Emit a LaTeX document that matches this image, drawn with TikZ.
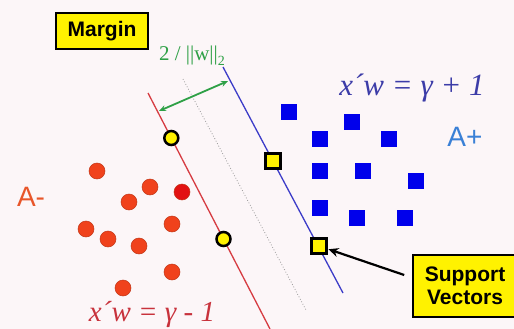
\documentclass[tikz,border=0pt]{standalone}
\usepackage{fontspec}
\setmainfont{Liberation Serif}
\setsansfont{Liberation Sans}
\usetikzlibrary{arrows.meta}
\definecolor{bg}{RGB}{252,246,248}
\definecolor{dotred}{RGB}{240,66,28}
\definecolor{dotdark}{RGB}{226,18,18}
\definecolor{sqblue}{RGB}{0,0,235}
\definecolor{linered}{RGB}{214,60,66}
\definecolor{lineblue}{RGB}{60,60,200}
\definecolor{arrgreen}{RGB}{46,160,70}
\definecolor{eqblue}{RGB}{60,60,168}
\definecolor{eqred}{RGB}{200,50,60}
\definecolor{aplus}{RGB}{58,128,214}
\definecolor{aminus}{RGB}{232,86,42}
\begin{document}
\begin{tikzpicture}[x=1pt,y=-1pt,
  reddot/.style={circle, fill=dotred, draw=dotred!80!black, line width=0.5pt, minimum size=16pt, inner sep=0pt},
  bluesq/.style={rectangle, fill=sqblue, minimum size=16pt, inner sep=0pt},
  svcirc/.style={circle, fill=yellow, draw=black, line width=2.5pt, minimum size=14pt, inner sep=0pt},
  svsq/.style={rectangle, fill=yellow, draw=black, line width=2.5pt, minimum size=15pt, inner sep=0pt},
  tagbox/.style={rectangle, fill=yellow, draw=black, line width=1.6pt, inner sep=0pt, align=center,
    font=\sffamily\bfseries\fontsize{21}{23}\selectfont},
  eqlabel/.style={font=\itshape\fontsize{31}{33}\selectfont, inner sep=0pt}
]
\useasboundingbox (0,0) rectangle (514,329);
\fill[bg] (0,0) rectangle (514,329);

% lines
\coordinate (r1) at (148,93);
\coordinate (r2) at (270,329);
\coordinate (b1) at (223,67);
\coordinate (b2) at (343,293);
\coordinate (g1) at (183,79);
\coordinate (g2) at (306,310);
\draw[linered, line width=1.3pt] (r1) -- (r2);
\draw[lineblue, line width=1.3pt] (b1) -- (b2);
\draw[gray!80, dotted, line width=0.8pt] (g1) -- (g2);

% margin arrow
\coordinate (m1) at (159,111);
\coordinate (m2) at (228,81);
\draw[arrgreen, line width=1.8pt, {Stealth[length=7pt,width=6pt]}-{Stealth[length=7pt,width=6pt]}] (m1) -- (m2);
\node[text=arrgreen, font=\fontsize{21}{23}\selectfont, inner sep=0pt] (mlabel) at (192,56) {2 / ||w||\raisebox{-0.25em}{\fontsize{14}{16}\selectfont 2}};

% red points
\node[reddot] (p1) at (97,171) {};
\node[reddot] (p2) at (150,187) {};
\node[reddot, fill=dotdark] (p3) at (182,192) {};
\node[reddot] (p4) at (129,202) {};
\node[reddot] (p5) at (86,229) {};
\node[reddot] (p6) at (172,224) {};
\node[reddot] (p7) at (108,239) {};
\node[reddot] (p8) at (139,246) {};
\node[reddot] (p9) at (172,272) {};
\node[reddot] (p10) at (123,288) {};

% blue points
\node[bluesq] (q1) at (289,112) {};
\node[bluesq] (q2) at (352,122) {};
\node[bluesq] (q3) at (320,139) {};
\node[bluesq] (q4) at (389,139) {};
\node[bluesq] (q5) at (320,171) {};
\node[bluesq] (q6) at (363,171) {};
\node[bluesq] (q7) at (416,181) {};
\node[bluesq] (q8) at (320,208) {};
\node[bluesq] (q9) at (357,218) {};
\node[bluesq] (q10) at (405,218) {};

% support vectors
\node[svcirc] (s1) at (171.3,138) {};
\node[svcirc] (s2) at (223.5,239) {};
\node[svsq] (s3) at (273,161) {};
\node[svsq] (s4) at (319,246) {};

% labels
\node[tagbox, minimum width=92pt, minimum height=36pt] (margin) at (102,31) {Margin};
\node[tagbox, minimum width=104pt, minimum height=62pt] (support) at (465,286) {Support\\Vectors};
\coordinate (arrstart) at ([xshift=-8pt,yshift=11pt]support.west);
\draw[black, line width=2.2pt, shorten >=10pt, -{Stealth[length=10pt,width=9pt]}] (arrstart) -- (s4.center);
\node[text=aplus, font=\sffamily\fontsize{28}{30}\selectfont, inner sep=0pt] (aplus) at (465,137) {A+};
\node[text=aminus, font=\sffamily\fontsize{28}{30}\selectfont, inner sep=0pt] (aminus) at (31,197) {A-};
\node[eqlabel, text=eqblue] (eqp) at (412,88) {x´w = γ + 1};
\node[eqlabel, text=eqred, font=\itshape\fontsize{29}{31}\selectfont, anchor=base] (eqm) at (152,321) {x´w = γ - 1};
\end{tikzpicture}
\end{document}
